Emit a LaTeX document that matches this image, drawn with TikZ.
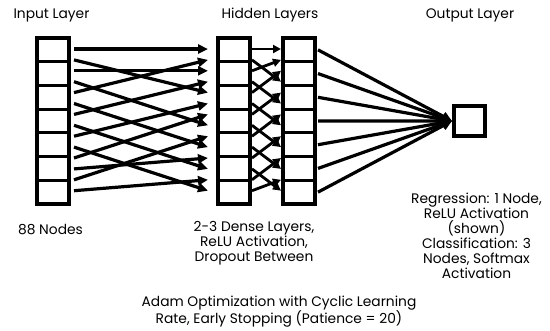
\documentclass[tikz,border=0pt]{standalone}
\usepackage{fontspec}
\setmainfont{Poppins}
\usetikzlibrary{arrows.meta}
\begin{document}
\begin{tikzpicture}[x=1pt,y=-1pt,
  cell/.style={draw, line width=3.2pt, minimum width=32pt, minimum height=23.7pt, inner sep=0pt, outer sep=0pt},
  conn/.style={line width=3.2pt, -{Triangle[length=10pt,width=9pt]}},
  sconn/.style={line width=2.8pt, -{Triangle[length=8pt,width=8pt]}},
  lbl/.style={font=\fontsize{13.8}{15}\selectfont, align=center, inner sep=0pt}]
\useasboundingbox (0,0) rectangle (550,330);
% columns of cells
\foreach \r in {1,...,7} {
  \node[cell] (in\r) at (53, 26.143+23.714*\r) {};
  \node[cell] (hA\r) at (234, 26.143+23.714*\r) {};
  \node[cell] (hB\r) at (299, 26.143+23.714*\r) {};
}
\node[cell, minimum width=31pt, minimum height=30pt] (out) at (469.5,121) {};
% input -> hidden 1
\foreach \a/\b in {0/0,1/4,2/2,3/7,4/1,5/9,6/3,7/11,8/5,9/13,10/6,11/10,12/8,13/12}
  \draw[conn] ([xshift=5pt,yshift={-(11+10.9*\a)*1pt}]in1.north east)
    -- ([xshift=-10pt,yshift={-(11+10.9*\b)*1pt}]hA1.north west);
% hidden 1 -> hidden 2
\foreach \a/\b in {0/0,1/3,2/1,3/5,4/2,5/7,6/4,7/9,8/6,9/11,10/8,11/13,12/10,13/12}
  \draw[sconn] ([xshift=2pt,yshift={-(11+10.9*\a)*1pt}]hA1.north east)
    -- ([xshift=-2pt,yshift={-(11+10.9*\b)*1pt}]hB1.north west);
% hidden 2 -> output
\foreach \r in {1,...,7}
  \draw[conn] ([xshift=3pt]hB\r.east) -- ([xshift=-2pt]out.west);
% labels
\node[lbl] (tin) at (51.5,15) {Input Layer};
\node[lbl] (thid) at (270,15) {Hidden Layers};
\node[lbl] (tout) at (470,15) {Output Layer};
\node[lbl] (din) at (50.5,230) {88 Nodes};
\node[lbl] (dhid) at (254,243) {2-3 Dense Layers,\\ReLU Activation,\\Dropout Between};
\node[lbl] (dout) at (476.5,236) {Regression: 1 Node,\\ReLU Activation\\(shown)\\Classification: 3\\Nodes, Softmax\\Activation};
\node[lbl] (dopt) at (279,311.5) {Adam Optimization with Cyclic Learning\\Rate, Early Stopping (Patience = 20)};
\end{tikzpicture}
\end{document}
